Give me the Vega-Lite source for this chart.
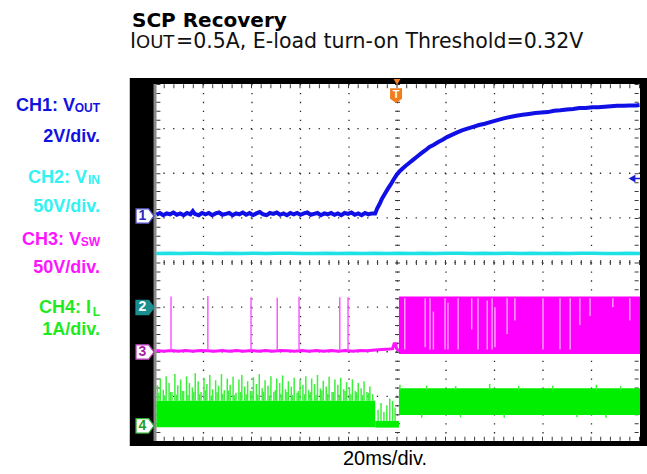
{
"$schema": "https://vega.github.io/schema/vega-lite/v6.json",
"width": 485, "height": 357,
"autosize": {"type": "none"},
"padding": {"left": 155, "top": 84, "right": 7, "bottom": 33},
"background": "#ffffff",
"config": {"view": {"stroke": null}, "legend": {"disable": true}},
"resolve": {"scale": {"color": "independent", "fill": "independent", "stroke": "independent"}},
"datasets": {
"blue": [
{"x":0.03,"y":1.07},{"x":0.1,"y":1.11},{"x":0.17,"y":1.06},{"x":0.24,"y":1.10},{"x":0.31,"y":1.08},{"x":0.38,"y":1.12},{"x":0.45,"y":1.07},{"x":0.52,"y":1.10},{"x":0.59,"y":1.06},{"x":0.66,"y":1.11},{"x":0.73,"y":1.08},{"x":0.78,"y":1.15},{"x":0.82,"y":1.09},{"x":0.9,"y":1.06},{"x":0.97,"y":1.11},{"x":1.04,"y":1.08},{"x":1.11,"y":1.11},{"x":1.18,"y":1.06},{"x":1.25,"y":1.10},{"x":1.32,"y":1.12},{"x":1.39,"y":1.07},{"x":1.46,"y":1.09},{"x":1.53,"y":1.11},{"x":1.6,"y":1.06},{"x":1.67,"y":1.10},{"x":1.74,"y":1.08},{"x":1.81,"y":1.12},{"x":1.88,"y":1.07},{"x":1.95,"y":1.11},{"x":2.02,"y":1.06},{"x":2.09,"y":1.10},{"x":2.16,"y":1.13},{"x":2.23,"y":1.08},{"x":2.3,"y":1.06},{"x":2.37,"y":1.11},{"x":2.44,"y":1.09},{"x":2.51,"y":1.12},{"x":2.58,"y":1.07},{"x":2.65,"y":1.10},{"x":2.72,"y":1.06},{"x":2.79,"y":1.11},{"x":2.86,"y":1.08},{"x":2.93,"y":1.11},{"x":3.0,"y":1.07},{"x":3.07,"y":1.10},{"x":3.14,"y":1.12},{"x":3.21,"y":1.07},{"x":3.28,"y":1.09},{"x":3.35,"y":1.11},{"x":3.42,"y":1.06},{"x":3.49,"y":1.10},{"x":3.56,"y":1.08},{"x":3.63,"y":1.11},{"x":3.7,"y":1.07},{"x":3.77,"y":1.10},{"x":3.84,"y":1.06},{"x":3.91,"y":1.11},{"x":3.98,"y":1.09},{"x":4.05,"y":1.12},{"x":4.12,"y":1.07},{"x":4.19,"y":1.10},{"x":4.26,"y":1.06},{"x":4.33,"y":1.11},{"x":4.4,"y":1.08},{"x":4.47,"y":1.10},
{"x":4.54,"y":1.10},{"x":4.58,"y":1.21},{"x":4.63,"y":1.31},{"x":4.68,"y":1.43},{"x":4.74,"y":1.54},{"x":4.8,"y":1.65},{"x":4.86,"y":1.75},{"x":4.92,"y":1.86},{"x":4.98,"y":1.96},{"x":5.04,"y":2.04},{"x":5.1,"y":2.10},{"x":5.17,"y":2.17},{"x":5.24,"y":2.23},{"x":5.32,"y":2.30},{"x":5.4,"y":2.37},{"x":5.48,"y":2.44},{"x":5.57,"y":2.51},{"x":5.66,"y":2.59},{"x":5.75,"y":2.64},{"x":5.84,"y":2.70},{"x":5.93,"y":2.75},{"x":6.02,"y":2.81},{"x":6.12,"y":2.86},{"x":6.22,"y":2.91},{"x":6.33,"y":2.96},{"x":6.44,"y":3.00},{"x":6.56,"y":3.04},{"x":6.68,"y":3.08},{"x":6.8,"y":3.11},{"x":6.93,"y":3.15},{"x":7.06,"y":3.19},{"x":7.19,"y":3.23},{"x":7.32,"y":3.26},{"x":7.45,"y":3.29},{"x":7.58,"y":3.31},{"x":7.71,"y":3.33},{"x":7.84,"y":3.35},{"x":7.97,"y":3.36},{"x":8.1,"y":3.37},{"x":8.23,"y":3.40},{"x":8.36,"y":3.41},{"x":8.49,"y":3.43},{"x":8.62,"y":3.44},{"x":8.75,"y":3.46},{"x":8.88,"y":3.46},{"x":9.01,"y":3.48},{"x":9.14,"y":3.48},{"x":9.27,"y":3.49},{"x":9.4,"y":3.50},{"x":9.53,"y":3.51},{"x":9.66,"y":3.51},{"x":9.79,"y":3.52},{"x":9.92,"y":3.52},{"x":9.99,"y":3.53}
],
"cyan": [
{"x":0.03,"y":0.20},{"x":0.28,"y":0.21},{"x":0.53,"y":0.20},{"x":0.78,"y":0.21},{"x":1.03,"y":0.21},{"x":1.28,"y":0.20},{"x":1.53,"y":0.21},{"x":1.78,"y":0.20},{"x":2.03,"y":0.21},{"x":2.28,"y":0.20},{"x":2.53,"y":0.21},{"x":2.78,"y":0.21},{"x":3.03,"y":0.20},{"x":3.28,"y":0.20},{"x":3.53,"y":0.21},{"x":3.78,"y":0.20},{"x":4.03,"y":0.21},{"x":4.28,"y":0.20},{"x":4.53,"y":0.21},{"x":4.78,"y":0.20},{"x":5.03,"y":0.21},{"x":5.28,"y":0.20},{"x":5.53,"y":0.21},{"x":5.78,"y":0.20},{"x":6.03,"y":0.21},{"x":6.28,"y":0.21},{"x":6.53,"y":0.20},{"x":6.78,"y":0.21},{"x":7.03,"y":0.20},{"x":7.28,"y":0.21},{"x":7.53,"y":0.20},{"x":7.78,"y":0.21},{"x":8.03,"y":0.20},{"x":8.28,"y":0.21},{"x":8.53,"y":0.20},{"x":8.78,"y":0.21},{"x":9.03,"y":0.21},{"x":9.28,"y":0.20},{"x":9.53,"y":0.20},{"x":9.78,"y":0.21},{"x":10.0,"y":0.20}
],
"mag": [
{"x":0.03,"y":-1.97},{"x":0.18,"y":-1.99},{"x":0.33,"y":-1.97},{"x":0.48,"y":-1.99},{"x":0.63,"y":-1.97},{"x":0.78,"y":-1.99},{"x":0.93,"y":-1.97},{"x":1.08,"y":-1.98},{"x":1.23,"y":-1.99},{"x":1.38,"y":-1.97},{"x":1.53,"y":-1.99},{"x":1.68,"y":-1.97},{"x":1.83,"y":-1.99},{"x":1.98,"y":-1.97},{"x":2.13,"y":-1.99},{"x":2.28,"y":-1.97},{"x":2.43,"y":-1.99},{"x":2.58,"y":-1.97},{"x":2.73,"y":-1.98},{"x":2.88,"y":-1.99},{"x":3.03,"y":-1.97},{"x":3.18,"y":-1.99},{"x":3.33,"y":-1.97},{"x":3.48,"y":-1.99},{"x":3.63,"y":-1.97},{"x":3.78,"y":-1.99},{"x":3.93,"y":-1.97},{"x":4.08,"y":-1.99},{"x":4.23,"y":-1.97},{"x":4.38,"y":-1.98},{"x":4.53,"y":-1.96},{"x":4.68,"y":-1.95},{"x":4.83,"y":-1.94},{"x":4.9,"y":-1.93},{"x":4.93,"y":-1.82},{"x":4.96,"y":-1.82},{"x":4.98,"y":-1.93},{"x":5.03,"y":-1.99}
],
"magSpk": [
{"x":0.33,"y":-1.98,"y2":-0.76},{"x":1.09,"y":-1.98,"y2":-0.75},{"x":1.98,"y":-1.98,"y2":-0.78},{"x":2.52,"y":-1.98,"y2":-0.79},{"x":2.97,"y":-1.98,"y2":-0.77},{"x":3.81,"y":-1.98,"y2":-0.78},{"x":3.98,"y":-1.98,"y2":-0.78}
],
"magGap": [
{"x":5.15,"y":-0.8,"y2":-1.95},{"x":5.57,"y":-0.8,"y2":-1.9},{"x":5.67,"y":-0.8,"y2":-1.95},{"x":5.74,"y":-1.1,"y2":-1.95},{"x":5.98,"y":-0.8,"y2":-1.95},{"x":6.04,"y":-0.9,"y2":-1.95},{"x":6.25,"y":-0.8,"y2":-1.95},{"x":6.53,"y":-0.8,"y2":-1.5},{"x":6.66,"y":-0.8,"y2":-1.95},{"x":6.85,"y":-0.85,"y2":-1.95},{"x":6.95,"y":-0.8,"y2":-1.95},{"x":7.01,"y":-1.0,"y2":-1.9},{"x":7.26,"y":-0.8,"y2":-1.6},{"x":7.42,"y":-0.8,"y2":-1.3},{"x":8.0,"y":-0.8,"y2":-1.95},{"x":8.35,"y":-0.8,"y2":-1.95},{"x":8.56,"y":-0.8,"y2":-1.95},{"x":8.76,"y":-0.8,"y2":-1.4},{"x":8.97,"y":-0.8,"y2":-1.2},{"x":9.44,"y":-0.8,"y2":-1.0},{"x":9.79,"y":-0.8,"y2":-1.3}
],
"grnBand": [
{"x":0.03,"x2":4.54,"y":-3.69,"y2":-3.1},{"x":4.54,"x2":5.03,"y":-3.7,"y2":-3.55},{"x":5.03,"x2":10.0,"y":-3.42,"y2":-2.82}
],
"grnSpk": [
{"x":0.05,"y":-3.1,"y2":-2.75},{"x":0.11,"y":-3.1,"y2":-2.6},{"x":0.17,"y":-3.1,"y2":-2.85},{"x":0.23,"y":-3.1,"y2":-2.55},{"x":0.29,"y":-3.1,"y2":-2.7},{"x":0.35,"y":-3.1,"y2":-2.9},{"x":0.41,"y":-3.1,"y2":-2.5},{"x":0.47,"y":-3.1,"y2":-2.75},{"x":0.53,"y":-3.1,"y2":-2.62},{"x":0.59,"y":-3.1,"y2":-2.88},{"x":0.65,"y":-3.1,"y2":-2.55},{"x":0.71,"y":-3.1,"y2":-2.7},{"x":0.77,"y":-3.1,"y2":-2.8},{"x":0.83,"y":-3.1,"y2":-2.48},{"x":0.89,"y":-3.1,"y2":-2.66},{"x":0.95,"y":-3.1,"y2":-2.9},{"x":1.01,"y":-3.1,"y2":-2.58},{"x":1.07,"y":-3.1,"y2":-2.72},{"x":1.13,"y":-3.1,"y2":-2.52},{"x":1.19,"y":-3.1,"y2":-2.84},{"x":1.25,"y":-3.1,"y2":-2.64},{"x":1.31,"y":-3.1,"y2":-2.76},{"x":1.37,"y":-3.1,"y2":-2.5},{"x":1.43,"y":-3.1,"y2":-2.86},{"x":1.49,"y":-3.1,"y2":-2.6},{"x":1.55,"y":-3.1,"y2":-2.74},{"x":1.61,"y":-3.1,"y2":-2.56},{"x":1.67,"y":-3.1,"y2":-2.92},{"x":1.73,"y":-3.1,"y2":-2.62},{"x":1.79,"y":-3.1,"y2":-2.52},{"x":1.85,"y":-3.1,"y2":-2.78},{"x":1.91,"y":-3.1,"y2":-2.66},{"x":1.97,"y":-3.1,"y2":-2.88},{"x":2.03,"y":-3.1,"y2":-2.57},{"x":2.09,"y":-3.1,"y2":-2.72},{"x":2.15,"y":-3.1,"y2":-2.5},{"x":2.21,"y":-3.1,"y2":-2.82},{"x":2.27,"y":-3.1,"y2":-2.64},{"x":2.33,"y":-3.1,"y2":-2.76},{"x":2.39,"y":-3.1,"y2":-2.55},{"x":2.45,"y":-3.1,"y2":-2.9},{"x":2.51,"y":-3.1,"y2":-2.6},{"x":2.57,"y":-3.1,"y2":-2.7},{"x":2.63,"y":-3.1,"y2":-2.53},{"x":2.69,"y":-3.1,"y2":-2.84},{"x":2.75,"y":-3.1,"y2":-2.66},{"x":2.81,"y":-3.1,"y2":-2.78},{"x":2.87,"y":-3.1,"y2":-2.58},{"x":2.93,"y":-3.1,"y2":-2.92},{"x":2.99,"y":-3.1,"y2":-2.62},{"x":3.05,"y":-3.1,"y2":-2.74},{"x":3.11,"y":-3.1,"y2":-2.55},{"x":3.17,"y":-3.1,"y2":-2.86},{"x":3.23,"y":-3.1,"y2":-2.6},{"x":3.29,"y":-3.1,"y2":-2.72},{"x":3.35,"y":-3.1,"y2":-2.52},{"x":3.41,"y":-3.1,"y2":-2.82},{"x":3.47,"y":-3.1,"y2":-2.65},{"x":3.53,"y":-3.1,"y2":-2.78},{"x":3.59,"y":-3.1,"y2":-2.56},{"x":3.65,"y":-3.1,"y2":-2.9},{"x":3.71,"y":-3.1,"y2":-2.62},{"x":3.77,"y":-3.1,"y2":-2.74},{"x":3.83,"y":-3.1,"y2":-2.58},{"x":3.89,"y":-3.1,"y2":-2.84},{"x":3.95,"y":-3.1,"y2":-2.68},{"x":4.01,"y":-3.1,"y2":-2.8},{"x":4.07,"y":-3.1,"y2":-2.62},{"x":4.13,"y":-3.1,"y2":-2.88},{"x":4.19,"y":-3.1,"y2":-2.7},{"x":4.25,"y":-3.1,"y2":-2.82},{"x":4.31,"y":-3.1,"y2":-2.66},{"x":4.37,"y":-3.1,"y2":-2.9},{"x":4.43,"y":-3.1,"y2":-2.78},{"x":4.49,"y":-3.1,"y2":-2.95},
{"x":0.08,"y":-3.1,"y2":-2.92},{"x":0.2,"y":-3.1,"y2":-2.98},{"x":0.32,"y":-3.1,"y2":-2.9},{"x":0.44,"y":-3.1,"y2":-2.96},{"x":0.56,"y":-3.1,"y2":-2.88},{"x":0.68,"y":-3.1,"y2":-2.97},{"x":0.8,"y":-3.1,"y2":-2.9},{"x":0.92,"y":-3.1,"y2":-2.95},{"x":1.04,"y":-3.1,"y2":-2.86},{"x":1.16,"y":-3.1,"y2":-2.98},{"x":1.28,"y":-3.1,"y2":-2.91},{"x":1.4,"y":-3.1,"y2":-2.94},{"x":1.52,"y":-3.1,"y2":-2.87},{"x":1.64,"y":-3.1,"y2":-2.97},{"x":1.76,"y":-3.1,"y2":-2.9},{"x":1.88,"y":-3.1,"y2":-2.95},{"x":2.0,"y":-3.1,"y2":-2.88},{"x":2.12,"y":-3.1,"y2":-2.96},{"x":2.24,"y":-3.1,"y2":-2.9},{"x":2.36,"y":-3.1,"y2":-2.98},{"x":2.48,"y":-3.1,"y2":-2.86},{"x":2.6,"y":-3.1,"y2":-2.94},{"x":2.72,"y":-3.1,"y2":-2.9},{"x":2.84,"y":-3.1,"y2":-2.97},{"x":2.96,"y":-3.1,"y2":-2.88},{"x":3.08,"y":-3.1,"y2":-2.95},{"x":3.2,"y":-3.1,"y2":-2.91},{"x":3.32,"y":-3.1,"y2":-2.97},{"x":3.44,"y":-3.1,"y2":-2.87},{"x":3.56,"y":-3.1,"y2":-2.94},{"x":3.68,"y":-3.1,"y2":-2.9},{"x":3.8,"y":-3.1,"y2":-2.96},{"x":3.92,"y":-3.1,"y2":-2.88},{"x":4.04,"y":-3.1,"y2":-2.95},{"x":4.16,"y":-3.1,"y2":-2.91},{"x":4.28,"y":-3.1,"y2":-2.97},{"x":4.4,"y":-3.1,"y2":-2.92},
{"x":4.6,"y":-3.55,"y2":-3.3},{"x":4.66,"y":-3.55,"y2":-3.15},{"x":4.72,"y":-3.55,"y2":-3.35},{"x":4.78,"y":-3.55,"y2":-3.2},{"x":4.84,"y":-3.55,"y2":-3.05},{"x":4.9,"y":-3.55,"y2":-3.1},{"x":4.95,"y":-3.55,"y2":-3.25},
{"x":5.05,"y":-2.85,"y2":-2.74},{"x":5.6,"y":-2.85,"y2":-2.76},{"x":6.2,"y":-2.85,"y2":-2.77},{"x":6.9,"y":-2.85,"y2":-2.72},{"x":7.5,"y":-2.85,"y2":-2.77},{"x":8.2,"y":-2.85,"y2":-2.76},{"x":9.1,"y":-2.85,"y2":-2.74},{"x":9.6,"y":-2.85,"y2":-2.77},
{"x":5.5,"y":-3.4,"y2":-3.48},{"x":6.3,"y":-3.4,"y2":-3.47},{"x":7.2,"y":-3.4,"y2":-3.48},{"x":8.7,"y":-3.4,"y2":-3.47},{"x":9.3,"y":-3.4,"y2":-3.48}
],
"markers": [
{"x":-0.206,"y":1.042,"tx":-0.258,"n":"1","ch":"CH1"},
{"x":-0.206,"y":-1.008,"tx":-0.258,"n":"2","ch":"CH2"},
{"x":-0.206,"y":-2.006,"tx":-0.258,"n":"3","ch":"CH3"},
{"x":-0.206,"y":-3.66,"tx":-0.258,"n":"4","ch":"CH4"}
],
"labMain": [
{"x":-1.649,"y":3.395,"t":"CH1: V","ch":"CH1"},
{"x":-1.134,"y":2.700,"t":"2V/div.","ch":"CH1"},
{"x":-1.402,"y":1.782,"t":"CH2: V","ch":"CH2"},
{"x":-1.134,"y":1.132,"t":"50V/div.","ch":"CH2"},
{"x":-1.526,"y":0.392,"t":"CH3: V","ch":"CH3"},
{"x":-1.134,"y":-0.235,"t":"50V/div.","ch":"CH3"},
{"x":-1.320,"y":-1.132,"t":"CH4: I","ch":"CH4"},
{"x":-1.134,"y":-1.625,"t":"1A/div.","ch":"CH4"}
],
"labSub": [
{"x":-1.134,"y":3.373,"t":"OUT","ch":"CH1"},
{"x":-1.134,"y":1.759,"t":"IN","ch":"CH2"},
{"x":-1.134,"y":0.370,"t":"SW","ch":"CH3"},
{"x":-1.134,"y":-1.199,"t":"L","ch":"CH4"}
]
},
"layer": [
{"data": {"values": [{"x": -0.52, "x2": 10.2, "y": 4.134, "y2": -4.112}]},
 "mark": {"type": "rect", "color": "#000000"},
 "encoding": {"x": {"field": "x", "type": "quantitative", "scale": {"domain": [0, 10]}, "axis": null}, "x2": {"field": "x2"},
  "y": {"field": "y", "type": "quantitative", "scale": {"domain": [-4, 4]}, "axis": null}, "y2": {"field": "y2"}}},
{"data": {"values": [{"x": 0, "x2": 10, "y": 4, "y2": -4}]},
 "mark": {"type": "rect", "color": "#ffffff"},
 "encoding": {"x": {"field": "x", "type": "quantitative", "scale": {"domain": [0, 10]}, "axis": null}, "x2": {"field": "x2"},
  "y": {"field": "y", "type": "quantitative", "scale": {"domain": [-4, 4]}, "axis": null}, "y2": {"field": "y2"}}},
{"data": {"values": [{"x": 0}]},
 "mark": {"type": "rule", "color": "#8a8a8a", "strokeWidth": 3},
 "encoding": {"x": {"field": "x", "type": "quantitative", "scale": {"domain": [0, 10]}, "axis": null}}},
{"data": {"values": [{"x": 1}, {"x": 2}, {"x": 3}, {"x": 4}, {"x": 5}, {"x": 6}, {"x": 7}, {"x": 8}, {"x": 9}]},
 "mark": {"type": "rule", "color": "#2a2a2a", "strokeWidth": 1.3, "strokeDash": [1.3, 7.625]},
 "encoding": {"x": {"field": "x", "type": "quantitative", "scale": {"domain": [0, 10]}, "axis": null}}},
{"data": {"values": [{"y": -3}, {"y": -2}, {"y": -1}, {"y": 0}, {"y": 1}, {"y": 2}, {"y": 3}]},
 "mark": {"type": "rule", "color": "#2a2a2a", "strokeWidth": 1.3, "strokeDash": [1.3, 8.4]},
 "encoding": {"y": {"field": "y", "type": "quantitative", "scale": {"domain": [-4, 4]}, "axis": null}}},
{"data": {"values": [{"x": 5}]},
 "mark": {"type": "rule", "color": "#3a3a3a", "strokeWidth": 5, "strokeDash": [1, 7.925]},
 "encoding": {"x": {"field": "x", "type": "quantitative", "scale": {"domain": [0, 10]}, "axis": null}}},
{"data": {"values": [{"y": 0}]},
 "mark": {"type": "rule", "color": "#3a3a3a", "strokeWidth": 5, "strokeDash": [1, 8.7]},
 "encoding": {"y": {"field": "y", "type": "quantitative", "scale": {"domain": [-4, 4]}, "axis": null}}},
{"data": {"values": [{"x": 0.07}, {"x": 9.93}]},
 "mark": {"type": "rule", "color": "#3a3a3a", "strokeWidth": 4, "strokeDash": [1, 7.925]},
 "encoding": {"x": {"field": "x", "type": "quantitative", "scale": {"domain": [0, 10]}, "axis": null}}},
{"data": {"values": [{"y": 3.95}, {"y": -3.95}]},
 "mark": {"type": "rule", "color": "#3a3a3a", "strokeWidth": 4, "strokeDash": [1, 8.7]},
 "encoding": {"y": {"field": "y", "type": "quantitative", "scale": {"domain": [-4, 4]}, "axis": null}}},
{"data": {"name": "cyan"},
 "mark": {"type": "line", "color": "#1ee1e6", "strokeWidth": 3.5},
 "encoding": {"x": {"field": "x", "type": "quantitative", "scale": {"domain": [0, 10]}, "axis": null},
  "y": {"field": "y", "type": "quantitative", "scale": {"domain": [-4, 4]}, "axis": null}}},
{"data": {"name": "mag"},
 "mark": {"type": "line", "color": "#ff14ff", "strokeWidth": 3},
 "encoding": {"x": {"field": "x", "type": "quantitative", "scale": {"domain": [0, 10]}, "axis": null},
  "y": {"field": "y", "type": "quantitative", "scale": {"domain": [-4, 4]}, "axis": null}}},
{"data": {"name": "magSpk"},
 "mark": {"type": "rule", "color": "#ff4cff", "strokeWidth": 1.4},
 "encoding": {"x": {"field": "x", "type": "quantitative", "scale": {"domain": [0, 10]}, "axis": null},
  "y": {"field": "y", "type": "quantitative", "scale": {"domain": [-4, 4]}, "axis": null}, "y2": {"field": "y2"}}},
{"data": {"values": [{"x": 5.03, "x2": 10, "y": -2.05, "y2": -0.76}]},
 "mark": {"type": "rect", "color": "#ff00ff"},
 "encoding": {"x": {"field": "x", "type": "quantitative", "scale": {"domain": [0, 10]}, "axis": null}, "x2": {"field": "x2"},
  "y": {"field": "y", "type": "quantitative", "scale": {"domain": [-4, 4]}, "axis": null}, "y2": {"field": "y2"}}},
{"data": {"name": "magGap"},
 "mark": {"type": "rule", "color": "#ffa6ff", "strokeWidth": 1.4},
 "encoding": {"x": {"field": "x", "type": "quantitative", "scale": {"domain": [0, 10]}, "axis": null},
  "y": {"field": "y", "type": "quantitative", "scale": {"domain": [-4, 4]}, "axis": null}, "y2": {"field": "y2"}}},
{"data": {"name": "grnBand"},
 "mark": {"type": "rect", "color": "#00ee00"},
 "encoding": {"x": {"field": "x", "type": "quantitative", "scale": {"domain": [0, 10]}, "axis": null}, "x2": {"field": "x2"},
  "y": {"field": "y", "type": "quantitative", "scale": {"domain": [-4, 4]}, "axis": null}, "y2": {"field": "y2"}}},
{"data": {"name": "grnSpk"},
 "mark": {"type": "rule", "color": "#3cf03c", "strokeWidth": 1.5},
 "encoding": {"x": {"field": "x", "type": "quantitative", "scale": {"domain": [0, 10]}, "axis": null},
  "y": {"field": "y", "type": "quantitative", "scale": {"domain": [-4, 4]}, "axis": null}, "y2": {"field": "y2"}}},
{"data": {"name": "blue"},
 "mark": {"type": "line", "color": "#0f0fe6", "strokeWidth": 4},
 "encoding": {"x": {"field": "x", "type": "quantitative", "scale": {"domain": [0, 10]}, "axis": null},
  "y": {"field": "y", "type": "quantitative", "scale": {"domain": [-4, 4]}, "axis": null}}},
{"data": {"values": [{"x": 9.83, "x2": 10.0, "y": 1.882}]},
 "mark": {"type": "rule", "color": "#1a1ad0", "strokeWidth": 1.5},
 "encoding": {"x": {"field": "x", "type": "quantitative", "scale": {"domain": [0, 10]}, "axis": null}, "x2": {"field": "x2"},
  "y": {"field": "y", "type": "quantitative", "scale": {"domain": [-4, 4]}, "axis": null}}},
{"data": {"values": [{"x": 9.835, "y": 1.882}]},
 "mark": {"type": "point", "shape": "triangle-left", "filled": true, "color": "#1a1ad0", "size": 60, "opacity": 1},
 "encoding": {"x": {"field": "x", "type": "quantitative", "scale": {"domain": [0, 10]}, "axis": null},
  "y": {"field": "y", "type": "quantitative", "scale": {"domain": [-4, 4]}, "axis": null}}},
{"data": {"name": "markers"},
 "mark": {"type": "point", "shape": "M-1,-0.8L0.4,-0.8L1,0L0.4,0.8L-1,0.8Z", "size": 324, "filled": true, "strokeWidth": 1.3, "opacity": 1},
 "encoding": {"x": {"field": "x", "type": "quantitative", "scale": {"domain": [0, 10]}, "axis": null},
  "y": {"field": "y", "type": "quantitative", "scale": {"domain": [-4, 4]}, "axis": null},
  "fill": {"field": "ch", "type": "nominal", "legend": null, "scale": {"domain": ["CH1", "CH2", "CH3", "CH4"], "range": ["#ffffff", "#1a8f8f", "#ffffff", "#ffffff"]}},
  "stroke": {"field": "ch", "type": "nominal", "legend": null, "scale": {"domain": ["CH1", "CH2", "CH3", "CH4"], "range": ["#5050c8", "#1a8f8f", "#c040c0", "#30b030"]}}}},
{"data": {"name": "markers"},
 "mark": {"type": "text", "font": "Liberation Sans", "fontWeight": "bold", "fontSize": 14, "align": "center", "baseline": "middle"},
 "encoding": {"x": {"field": "tx", "type": "quantitative", "scale": {"domain": [0, 10]}, "axis": null},
  "y": {"field": "y", "type": "quantitative", "scale": {"domain": [-4, 4]}, "axis": null},
  "text": {"field": "n"},
  "fill": {"field": "ch", "type": "nominal", "legend": null, "scale": {"domain": ["CH1", "CH2", "CH3", "CH4"], "range": ["#2a2ab8", "#ffffff", "#a81ea8", "#23a023"]}}}},
{"data": {"values": [{"x": 4.99, "y": 4.045}]},
 "mark": {"type": "point", "shape": "triangle-down", "filled": true, "color": "#f07d1e", "size": 45, "opacity": 1},
 "encoding": {"x": {"field": "x", "type": "quantitative", "scale": {"domain": [0, 10]}, "axis": null},
  "y": {"field": "y", "type": "quantitative", "scale": {"domain": [-4, 4]}, "axis": null}}},
{"data": {"values": [{"x": 4.97, "y": 3.742}]},
 "mark": {"type": "point", "shape": "M-1,-1.2L1,-1.2L1,0.55L0,1.25L-1,0.55Z", "filled": true, "color": "#f07d1e", "size": 144, "opacity": 1},
 "encoding": {"x": {"field": "x", "type": "quantitative", "scale": {"domain": [0, 10]}, "axis": null},
  "y": {"field": "y", "type": "quantitative", "scale": {"domain": [-4, 4]}, "axis": null}}},
{"data": {"values": [{"x": 4.97, "y": 3.76, "t": "T"}]},
 "mark": {"type": "text", "font": "Liberation Sans", "fontWeight": "bold", "fontSize": 11, "align": "center", "baseline": "middle", "color": "#ffffff"},
 "encoding": {"x": {"field": "x", "type": "quantitative", "scale": {"domain": [0, 10]}, "axis": null},
  "y": {"field": "y", "type": "quantitative", "scale": {"domain": [-4, 4]}, "axis": null}, "text": {"field": "t"}}},
{"data": {"name": "labMain"},
 "mark": {"type": "text", "font": "Liberation Sans", "fontWeight": "bold", "fontSize": 18, "align": "right", "baseline": "alphabetic"},
 "encoding": {"x": {"field": "x", "type": "quantitative", "scale": {"domain": [0, 10]}, "axis": null},
  "y": {"field": "y", "type": "quantitative", "scale": {"domain": [-4, 4]}, "axis": null}, "text": {"field": "t"},
  "color": {"field": "ch", "type": "nominal", "legend": null, "scale": {"domain": ["CH1", "CH2", "CH3", "CH4"], "range": ["#1212e0", "#33f2f2", "#ff14ff", "#1eea1e"]}}}},
{"data": {"name": "labSub"},
 "mark": {"type": "text", "font": "Liberation Sans", "fontWeight": "bold", "fontSize": 12, "align": "right", "baseline": "alphabetic"},
 "encoding": {"x": {"field": "x", "type": "quantitative", "scale": {"domain": [0, 10]}, "axis": null},
  "y": {"field": "y", "type": "quantitative", "scale": {"domain": [-4, 4]}, "axis": null}, "text": {"field": "t"},
  "color": {"field": "ch", "type": "nominal", "legend": null, "scale": {"domain": ["CH1", "CH2", "CH3", "CH4"], "range": ["#1212e0", "#33f2f2", "#ff14ff", "#1eea1e"]}}}},
{"data": {"values": [{"x": -0.474, "y": 5.284, "t": "SCP Recovery"}]},
 "mark": {"type": "text", "font": "DejaVu Sans", "fontWeight": "bold", "fontSize": 20, "align": "left", "baseline": "alphabetic", "color": "#000000"},
 "encoding": {"x": {"field": "x", "type": "quantitative", "scale": {"domain": [0, 10]}, "axis": null},
  "y": {"field": "y", "type": "quantitative", "scale": {"domain": [-4, 4]}, "axis": null}, "text": {"field": "t"}}},
{"data": {"values": [{"x": -0.515, "y": 4.80, "t": "I"}, {"x": 0.433, "y": 4.80, "t": "=0.5A, E-load turn-on Threshold=0.32V"}]},
 "mark": {"type": "text", "font": "DejaVu Sans", "fontSize": 20.5, "align": "left", "baseline": "alphabetic", "color": "#111111"},
 "encoding": {"x": {"field": "x", "type": "quantitative", "scale": {"domain": [0, 10]}, "axis": null},
  "y": {"field": "y", "type": "quantitative", "scale": {"domain": [-4, 4]}, "axis": null}, "text": {"field": "t"}}},
{"data": {"values": [{"x": -0.392, "y": 4.80, "t": "OUT"}]},
 "mark": {"type": "text", "font": "DejaVu Sans", "fontSize": 18, "align": "left", "baseline": "alphabetic", "color": "#111111"},
 "encoding": {"x": {"field": "x", "type": "quantitative", "scale": {"domain": [0, 10]}, "axis": null},
  "y": {"field": "y", "type": "quantitative", "scale": {"domain": [-4, 4]}, "axis": null}, "text": {"field": "t"}}},
{"data": {"values": [{"x": 4.742, "y": -4.538, "t": "20ms/div."}]},
 "mark": {"type": "text", "font": "Liberation Sans", "fontSize": 20, "align": "center", "baseline": "alphabetic", "color": "#000000"},
 "encoding": {"x": {"field": "x", "type": "quantitative", "scale": {"domain": [0, 10]}, "axis": null},
  "y": {"field": "y", "type": "quantitative", "scale": {"domain": [-4, 4]}, "axis": null}, "text": {"field": "t"}}}
]
}
